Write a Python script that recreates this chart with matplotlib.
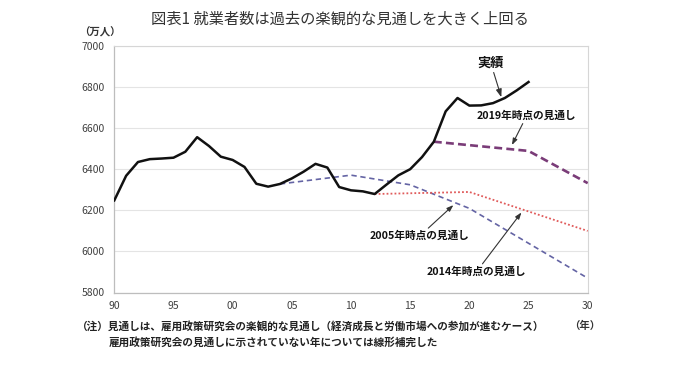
import matplotlib
matplotlib.use("Agg")
import matplotlib.pyplot as plt

plt.rcParams['font.family'] = ['Noto Sans CJK JP', 'DejaVu Sans']

# ---- data ----
years_actual = list(range(1990, 2026))
actual = [6249, 6369, 6436, 6450, 6453, 6457, 6486, 6557, 6514, 6462,
          6446, 6412, 6330, 6316, 6329, 6356, 6389, 6427, 6409, 6314,
          6298, 6293, 6280, 6326, 6371, 6401, 6460, 6535, 6683, 6748,
          6711, 6712, 6723, 6748, 6785, 6826]

years_2005 = [2004, 2010, 2015, 2020, 2030]
proj_2005 = [6329, 6372, 6325, 6210, 5870]

years_2014 = [2012, 2020, 2030]
proj_2014 = [6280, 6290, 6100]

years_2019 = [2017, 2025, 2030]
proj_2019 = [6535, 6490, 6333]

xticks = [1990, 1995, 2000, 2005, 2010, 2015, 2020, 2025, 2030]
xticklabels = ["90", "95", "00", "05", "10", "15", "20", "25", "30"]
yticks = [5800, 6000, 6200, 6400, 6600, 6800, 7000]

title = "図表1 就業者数は過去の楽観的な見通しを大きく上回る"
note1 = "（注）見通しは、雇用政策研究会の楽観的な見通し（経済成長と労働市場への参加が進むケース）"
note2 = "雇用政策研究会の見通しに示されていない年については線形補完した"

# ---- figure ----
W, H = 680, 370
fig = plt.figure(figsize=(W / 100, H / 100), dpi=100)
ax = fig.add_axes([114.3 / W, 1 - 292.5 / H, (587.7 - 114.3) / W, (292.5 - 46.3) / H])

ax.set_xlim(1990, 2030)
ax.set_ylim(5800, 7000)
ax.set_xticks(xticks)
ax.set_xticklabels(xticklabels)
ax.set_yticks(yticks)
ax.tick_params(length=0, labelsize=7.5, labelcolor="#404040")
ax.tick_params(axis='y', pad=7)
ax.tick_params(axis='x', pad=6)
ax.grid(axis='y', color="#e4e4e4", lw=0.8)
ax.set_axisbelow(True)
for s in ["left", "bottom"]:
    ax.spines[s].set_color("#bdbdbd")
    ax.spines[s].set_linewidth(0.9)
for s in ["top", "right"]:
    ax.spines[s].set_color("#d6d6d6")
    ax.spines[s].set_linewidth(0.8)

ax.plot(years_2005, proj_2005, color="#6464a4", lw=1.2, dashes=(3.2, 2.2), zorder=2)
ax.plot(years_2014, proj_2014, color="#e05a5a", lw=1.3, dashes=(1.0, 1.2), zorder=2)
ax.plot(years_2019, proj_2019, color="#7a3c78", lw=1.9, dashes=(3.0, 1.6), zorder=3)
ax.plot(years_actual, actual, color="#111111", lw=1.8, zorder=4, solid_joinstyle='round')

arrow = dict(arrowstyle="-|>,head_length=0.5,head_width=0.18", color="#333333", lw=0.8,
             shrinkA=0, shrinkB=0)
ax.annotate("実績", xy=(2022.7, 6752), xytext=(2021.8, 6920), fontsize=9.5,
            ha="center", va="center", color="#111111", fontweight="bold",
            arrowprops=arrow)
ax.annotate("2019年時点の見通し", xy=(2023.6, 6519), xytext=(2024.85, 6662), fontsize=7.7,
            ha="center", va="center", color="#111111", fontweight="bold",
            arrowprops=arrow)
ax.annotate("2005年時点の見通し", xy=(2018.65, 6226), xytext=(2015.8, 6075), fontsize=7.7,
            ha="center", va="center", color="#111111", fontweight="bold",
            arrowprops=arrow)
ax.annotate("2014年時点の見通し", xy=(2024.4, 6190), xytext=(2020.6, 5901), fontsize=7.7,
            ha="center", va="center", color="#111111", fontweight="bold",
            arrowprops=arrow)

fig.text(340 / W, 1 - 19 / H, title, fontsize=11, ha="center", va="center", color="#333333")
fig.text(100 / W, 1 - 32 / H, "（万人）", fontsize=7.5, ha="center", va="center",
         color="#333333", fontweight="bold")
fig.text(585 / W, 1 - 326 / H, "（年）", fontsize=7.5, ha="center", va="center",
         color="#333333", fontweight="bold")
fig.text(77 / W, 1 - 326 / H, note1, fontsize=7.65, ha="left", va="center",
         color="#222222", fontweight="bold")
fig.text(109 / W, 1 - 342 / H, note2, fontsize=7.65, ha="left", va="center",
         color="#222222", fontweight="bold")

fig.savefig("out.png", dpi=100)
